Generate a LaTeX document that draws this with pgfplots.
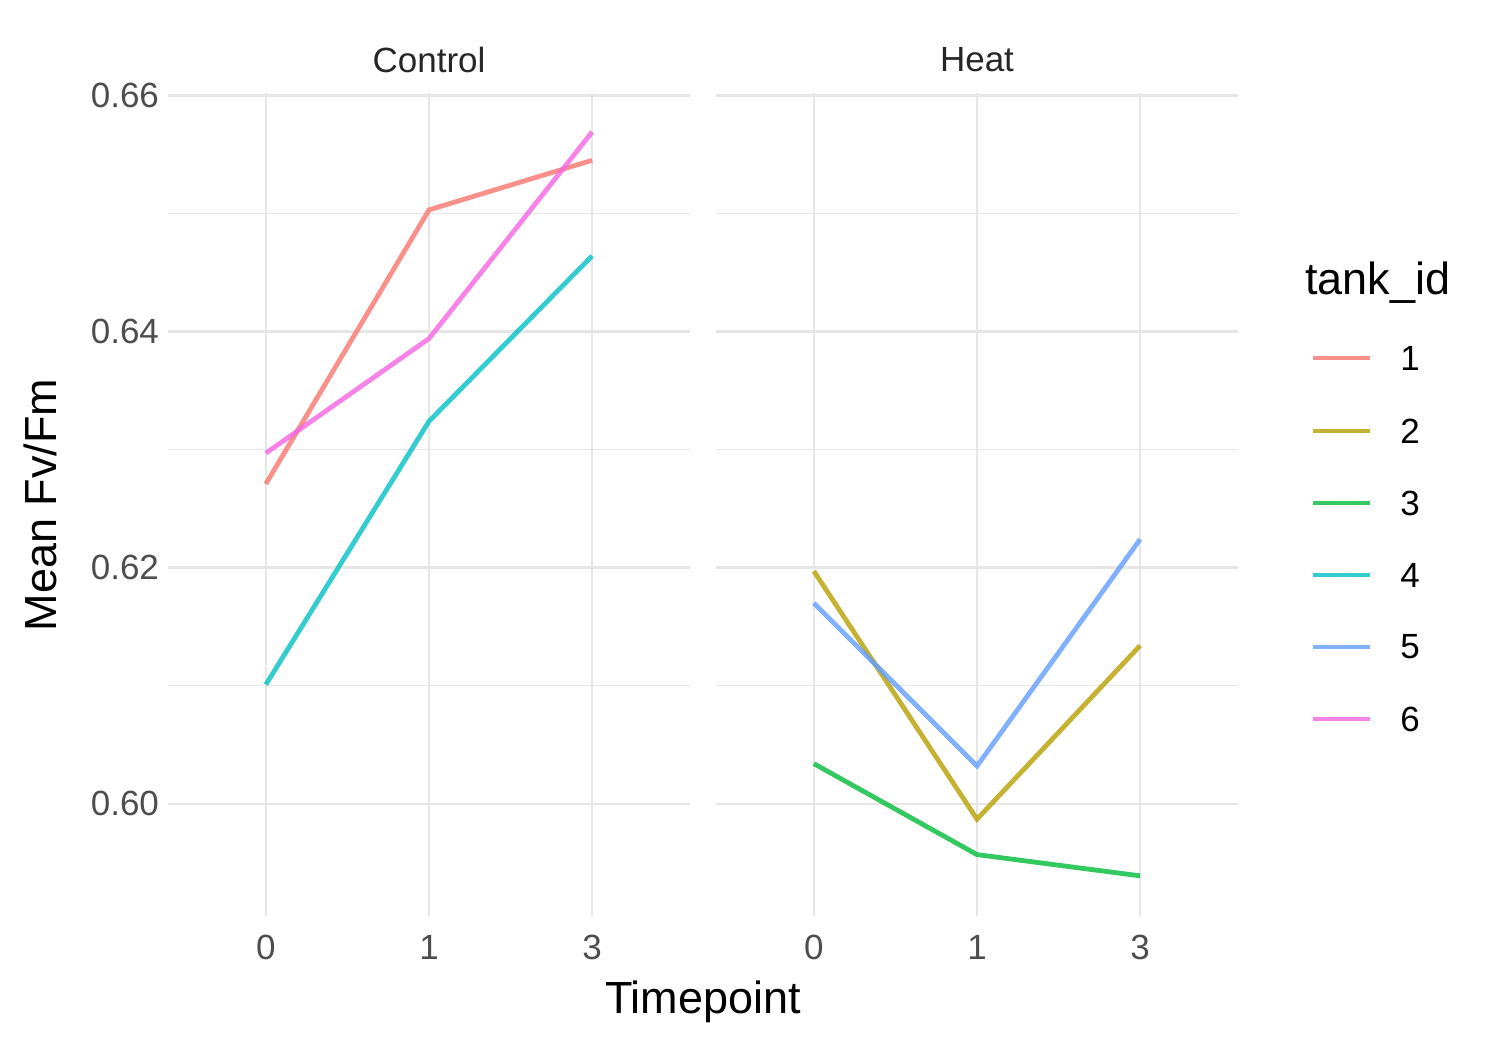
\documentclass[border=0pt]{standalone}
\usepackage{pgfplots}
\pgfplotsset{compat=1.18}
\usepackage{fontspec}
\setmainfont{Liberation Sans}
\definecolor{c1}{HTML}{F8766D}
\definecolor{c2}{HTML}{B79F00}
\definecolor{c3}{HTML}{00BA38}
\definecolor{c4}{HTML}{00BFC4}
\definecolor{c5}{HTML}{619CFF}
\definecolor{c6}{HTML}{F564E3}
\definecolor{gr}{HTML}{E6E6E6}
\definecolor{tk}{HTML}{4D4D4D}
\pgfplotsset{panel/.style={
  scale only axis, width=261pt, height=411.5pt,
  xmin=0.4, xmax=3.6, ymin=0.5905, ymax=0.6602,
  xtick={1,2,3}, xticklabels={0,1,3},
  ytick={0.60,0.62,0.64,0.66}, minor ytick={0.61,0.63,0.65},
  axis line style={draw=none}, tick style={draw=none},
  grid=both, major grid style={gr, line width=1.3pt}, minor grid style={gr, line width=0.7pt},
  ticklabel style={font=\fontsize{17.5}{19}\selectfont, text=tk},
  xticklabel style={yshift=-6pt},
  yticklabel style={xshift=-1pt},
  /pgf/number format/assume math mode=true,
  /pgf/number format/fixed, /pgf/number format/fixed zerofill, /pgf/number format/precision=2,
  every axis plot/.append style={line width=2.4pt, opacity=0.8, no marks},
  clip=false, axis on top=false}}
\begin{document}
\begin{tikzpicture}
\path (0,0) rectangle (750pt,525pt);
\begin{axis}[panel, at={(84pt,67pt)}, anchor=south west]
\addplot[c1] coordinates {(1,0.6271) (2,0.6503) (3,0.6545)};
\addplot[c4] coordinates {(1,0.6101) (2,0.6324) (3,0.6464)};
\addplot[c6] coordinates {(1,0.6297) (2,0.6394) (3,0.6569)};
\end{axis}
\begin{axis}[panel, at={(358pt,67pt)}, anchor=south west, yticklabels={}]
\addplot[c2] coordinates {(1,0.6197) (2,0.5987) (3,0.6134)};
\addplot[c3] coordinates {(1,0.6034) (2,0.5957) (3,0.5939)};
\addplot[c5] coordinates {(1,0.6170) (2,0.6032) (3,0.6224)};
\end{axis}
\node[font=\fontsize{17.5}{19}\selectfont, text=black!85] at (214.5pt,495pt) {Control};
\node[font=\fontsize{17.5}{19}\selectfont, text=black!85] at (488.5pt,495pt) {Heat};
\node[font=\fontsize{22.5}{25}\selectfont] at (351.5pt,24pt) {Timepoint};
\node[font=\fontsize{22.5}{25}\selectfont, rotate=90] at (20pt,272.5pt) {Mean Fv/Fm};
\node[font=\fontsize{22.5}{25}\selectfont, anchor=west, inner sep=0pt] at (652.5pt,383.5pt) {tank\_id};
\foreach \c/\l/\py in {c1/1/358,c2/2/431,c3/3/503,c4/4/575,c5/5/647,c6/6/719}{
  \draw[\c, opacity=0.8, line width=2.4pt] (656.5pt,{(1050-\py)/2*1pt}) -- (685pt,{(1050-\py)/2*1pt});
  \node[font=\fontsize{17.5}{19}\selectfont, anchor=center] at (705pt,{(1050-\py)/2*1pt}) {\l};
}
\end{tikzpicture}
\end{document}
